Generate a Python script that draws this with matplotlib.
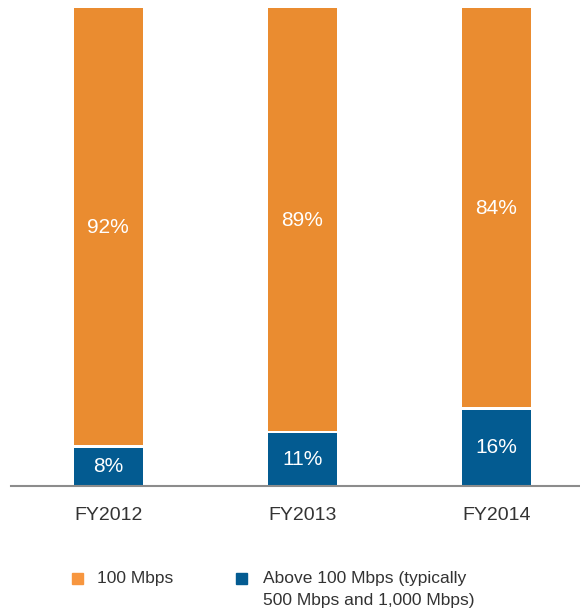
import matplotlib
matplotlib.use("Agg")
import matplotlib.pyplot as plt
from matplotlib.patches import Rectangle

plt.rcParams['font.family'] = ['Liberation Sans', 'DejaVu Sans']

categories = ["FY2012", "FY2013", "FY2014"]
above_100 = [8, 11, 16]
mbps_100 = [92, 89, 84]
series_names = ["100 Mbps", "Above 100 Mbps (typically", "500 Mbps and 1,000 Mbps)"]

ORANGE = "#EA8C30"
BLUE = "#035B91"
LEG_ORANGE = "#F7963F"
TXT = "#333333"

W, H = 580, 611
fig = plt.figure(figsize=(W / 100, H / 100), dpi=100)
ax = fig.add_axes([11 / W, 1 - 486 / H, (580 - 11) / W, (486 - 8) / H])

x = list(range(len(categories)))
bw = 0.355
gap = 0.6
ax.bar(x, above_100, width=bw, color=BLUE, edgecolor="none")
ax.bar(x, [m - gap for m in mbps_100], bottom=[a + gap for a in above_100],
       width=bw, color=ORANGE, edgecolor="none")

for i in x:
    ax.text(i, above_100[i] / 2, f"{above_100[i]}%", ha="center", va="center",
            color="white", fontsize=15)
    ax.text(i, above_100[i] + mbps_100[i] / 2, f"{mbps_100[i]}%", ha="center",
            va="center", color="white", fontsize=15)

ax.set_xlim(-0.5, 2.43)
ax.set_ylim(0, 100)
for s in ["top", "right", "left"]:
    ax.spines[s].set_visible(False)
ax.spines["bottom"].set_color("#8C8C8C")
ax.spines["bottom"].set_linewidth(1.5)
ax.set_yticks([])
ax.set_xticks(x)
ax.set_xticklabels(categories, fontsize=14, color=TXT)
ax.tick_params(axis="x", length=0, pad=15)

# legend
def fx(px):
    return px / W

def fy(py):
    return 1 - py / H

fig.patches.append(Rectangle((fx(72), fy(584)), 11 / W, 11 / H, color=LEG_ORANGE,
                             transform=fig.transFigure, figure=fig))
fig.text(fx(97), fy(578.5), series_names[0], ha="left", va="center", fontsize=12.5, color=TXT)
fig.patches.append(Rectangle((fx(236), fy(584)), 11 / W, 11 / H, color=BLUE,
                             transform=fig.transFigure, figure=fig))
fig.text(fx(263), fy(578.5), series_names[1], ha="left", va="center", fontsize=12.5, color=TXT)
fig.text(fx(263), fy(601), series_names[2], ha="left", va="center", fontsize=12.5, color=TXT)

fig.savefig("out.png", dpi=100)
